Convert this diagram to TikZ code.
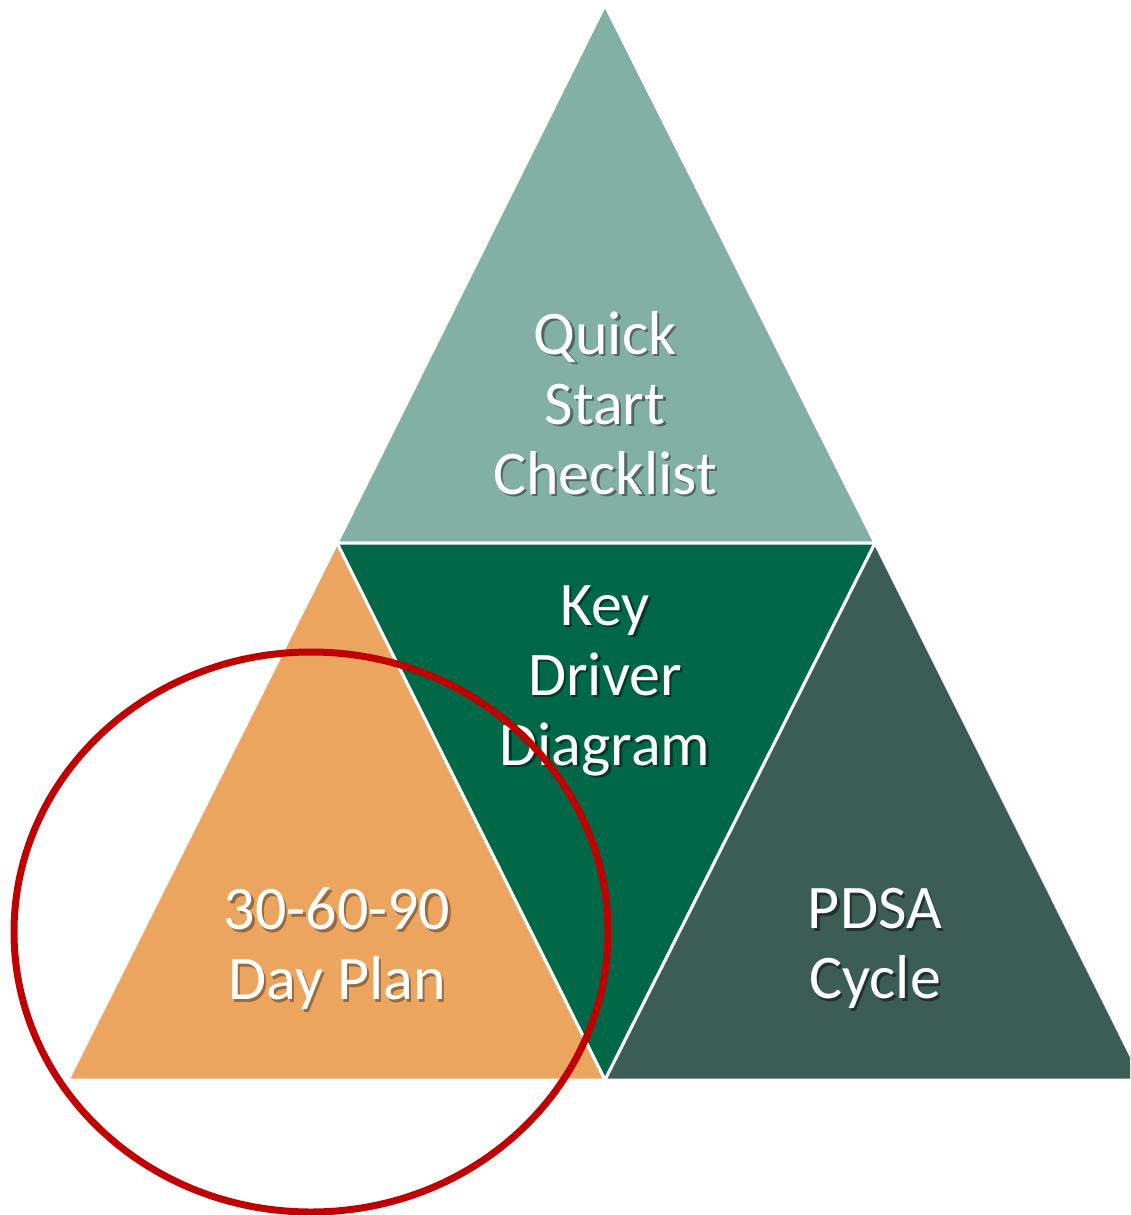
\documentclass[tikz,border=0pt]{standalone}
\usepackage{fontspec}
\setmainfont{Carlito}
\definecolor{sage}{HTML}{82B0A5}
\definecolor{forest}{HTML}{006846}
\definecolor{apricot}{HTML}{EBA55E}
\definecolor{slate}{HTML}{3C5D56}
\definecolor{ringred}{HTML}{C00000}
% one line of white text with a soft drop shadow in colour #1
\newcommand\castline[2]{\leavevmode\rlap{\kern2.5pt\raisebox{-2.5pt}{\textcolor{#1}{#2}}}\textcolor{white}{#2}}
\tikzset{
  facet/.style={draw=white, line width=3pt, line join=miter},
  label/.style={align=center, inner sep=0pt,
    font=\fontsize{62}{70}\selectfont},
  ring/.style={draw=ringred, line width=7pt}
}
\begin{document}
\begin{tikzpicture}[x=1pt, y=-1pt]
  \useasboundingbox (0,0) rectangle (1130,1215);
  \clip (0,0) rectangle (1130,1215);
  % corner points of the big triangle and its midpoints
  \coordinate (apex) at (605,5);
  \coordinate (ml) at (337,543);
  \coordinate (mr) at (875,543);
  \coordinate (bl) at (68,1080);
  \coordinate (bm) at (605,1080);
  \coordinate (br) at (1143,1080);
  % four facets
  \fill[sage]    (apex) -- (ml) -- (mr) -- cycle;
  \draw[facet]   (apex) -- (ml) -- (mr) -- cycle;
  \fill[forest]  (ml) -- (mr) -- (bm) -- cycle;
  \draw[facet]   (ml) -- (mr) -- (bm) -- cycle;
  \fill[apricot] (ml) -- (bl) -- (bm) -- cycle;
  \draw[facet]   (ml) -- (bl) -- (bm) -- cycle;
  \fill[slate]   (mr) -- (bm) -- (br) -- cycle;
  \draw[facet]   (mr) -- (bm) -- (br) -- cycle;
  % labels
  \node[label] (qsc) at (605,404)
    {\castline{black!40!sage}{Quick}\\\castline{black!40!sage}{Start}\\\castline{black!40!sage}{Checklist}};
  \node[label] (kdd) at (605,682)
    {\castline{black!45!forest}{Key}\\\castline{black!45!forest}{Driver}\\\castline{black!45!forest}{Diagram}};
  \node[label] (dp) at (337,950)
    {\castline{black!35!apricot}{30-60-90}\\\castline{black!35!apricot}{Day Plan}};
  \node[label] (pdsa) at (875,950)
    {\castline{black!45!slate}{PDSA}\\\castline{black!45!slate}{Cycle}};
  % highlight ring
  \draw[ring] (311,932) ellipse [x radius=297, y radius=280];
\end{tikzpicture}
\end{document}
